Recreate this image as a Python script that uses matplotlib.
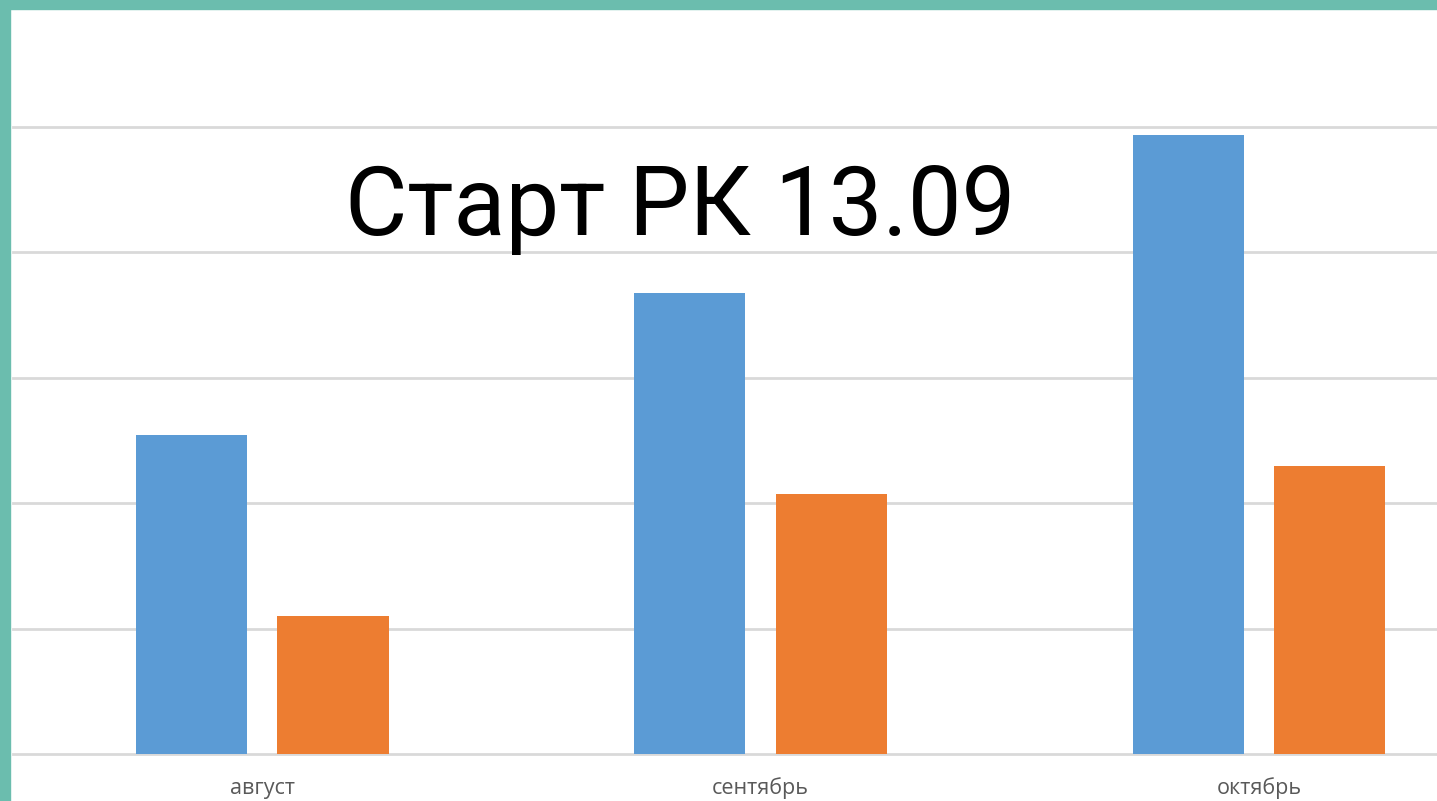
import matplotlib.pyplot as plt
import numpy as np
from matplotlib.patches import Rectangle

months = ['август', 'сентябрь', 'октябрь']
series_blue = [2.54, 3.68, 4.94]
series_orange = [1.10, 2.07, 2.30]
title_text = 'Старт РК 13.09'

fig = plt.figure(figsize=(14.37, 8.01), dpi=100)
ax = fig.add_axes([13 / 1437, 1 - 754 / 801, 1 - 13 / 1437, (754 - 127) / 801])

x = np.arange(len(months))
w = 0.223
ax.bar(x - 0.142, series_blue, width=w, color='#5B9BD5', zorder=3)
ax.bar(x + 0.142, series_orange, width=w, color='#ED7D31', zorder=3)

ax.set_xlim(-0.5, 2.357)
ax.set_ylim(0, 5)
ax.set_yticks(np.arange(0, 6))
ax.yaxis.grid(True, color='#D9D9D9', linewidth=2)
for gl in ax.get_ygridlines():
    gl.set_clip_on(False)
ax.tick_params(axis='y', left=False, labelleft=False)
ax.set_xticks(x)
ax.set_xticklabels(months, fontsize=15.5, color='#595959', family='Open Sans')
ax.tick_params(axis='x', length=0, pad=17)
for s in ax.spines.values():
    s.set_visible(False)

fig.text(680 / 1437, 1 - 209 / 801, title_text, fontsize=69, family='Roboto',
         ha='center', va='center', color='black')

# teal frame on top and left
fig.patches.append(Rectangle((0, 1 - 9 / 801), 1, 9 / 801, transform=fig.transFigure,
                             color='#6BBDAE', zorder=5))
fig.patches.append(Rectangle((0, 0), 10 / 1437, 1, transform=fig.transFigure,
                             color='#6BBDAE', zorder=5))

fig.savefig('out.png', dpi=100)
